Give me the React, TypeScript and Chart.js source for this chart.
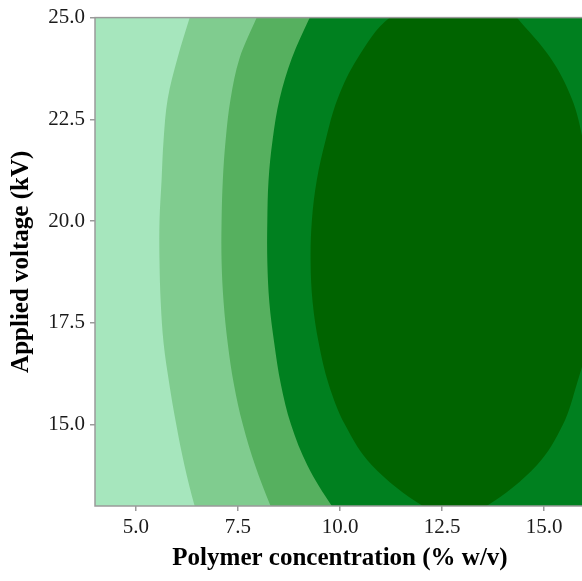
import React, { useEffect, useRef } from 'react';
import { Chart, registerables } from 'chart.js';

Chart.register(...registerables);

// Contour boundaries (x position of each boundary at each voltage).
// The first and last entries lie just outside the plotted range so the curves meet the frame naturally.
const yLevels = [25.5, 25, 24, 23, 22, 21, 20, 19, 18, 17, 16, 15, 14, 13, 12.5];
const level1X = [6.47, 6.32, 6.02, 5.78, 5.68, 5.63, 5.58, 5.58, 5.61, 5.68, 5.82, 5.99, 6.19, 6.44, 6.6];
const level2X = [8.18, 7.96, 7.54, 7.32, 7.2, 7.13, 7.1, 7.1, 7.15, 7.25, 7.4, 7.62, 7.92, 8.3, 8.52];
const level3X = [9.5, 9.26, 8.82, 8.52, 8.35, 8.25, 8.22, 8.22, 8.27, 8.39, 8.55, 8.8, 9.2, 9.8, 10.2];

// Innermost (darkest) region: closed contour
const ellipseY = [25, 24, 23, 22, 21, 20, 19, 18, 17, 16, 15, 14, 13];
const level4Left = [11.22, 10.43, 9.94, 9.65, 9.43, 9.31, 9.28, 9.33, 9.48, 9.72, 10.12, 10.78, 12.03];
const level4Right = [14.33, 15.16, 15.68, 15.95, 16.12, 16.22, 16.24, 16.19, 16.07, 15.8, 15.46, 14.82, 13.59];
const level4Top = { x: 12.78, y: 25.8 };
const level4Bottom = { x: 12.8, y: 12.75 };

const outerEdgeX = 16.5;

const levelColors = ['#a6e6bd', '#80cc8f', '#56b05f', '#00801f', '#006400'];

const xTicks = [5, 7.5, 10, 12.5, 15];
const yTicks = [15, 17.5, 20, 22.5, 25];
const xRange = [4, 16];
const yRange = [13, 25];

const FONT = "'Liberation Serif', 'Times New Roman', serif";

function bandPoints(xs: number[]) {
  const pts = yLevels.map((y, i) => ({ x: xs[i], y }));
  pts.push({ x: outerEdgeX, y: yLevels[yLevels.length - 1] });
  pts.push({ x: outerEdgeX, y: yLevels[0] });
  return pts;
}

function ellipsePoints() {
  const left = ellipseY.map((y, i) => ({ x: level4Left[i], y }));
  const right = ellipseY.map((y, i) => ({ x: level4Right[i], y })).reverse();
  return [level4Top, ...left, level4Bottom, ...right];
}

const bgPlugin = {
  id: 'bgFill',
  beforeDatasetsDraw(chart: any) {
    const { ctx, chartArea } = chart;
    ctx.save();
    ctx.fillStyle = levelColors[0];
    ctx.fillRect(chartArea.left, chartArea.top, chartArea.right - chartArea.left, chartArea.bottom - chartArea.top);
    ctx.restore();
  },
  afterDatasetsDraw(chart: any) {
    const { ctx, chartArea } = chart;
    ctx.save();
    ctx.strokeStyle = '#9a9a9a';
    ctx.lineWidth = 1.5;
    ctx.strokeRect(chartArea.left, chartArea.top, chartArea.right - chartArea.left, chartArea.bottom - chartArea.top);
    ctx.restore();
  },
};

export default function App() {
  const ref = useRef<HTMLCanvasElement | null>(null);

  useEffect(() => {
    document.body.style.margin = '0';
    document.body.style.overflow = 'hidden';
    document.documentElement.style.overflow = 'hidden';
    const canvas = ref.current;
    if (!canvas) return;

    const common = {
      pointRadius: 0,
      pointHoverRadius: 0,
      borderWidth: 0,
      borderColor: 'transparent',
      tension: 0.35,
      fill: 'shape',
    };

    // Chart.js draws the first dataset on top, so the innermost level comes first
    const chart = new Chart(canvas, {
      type: 'line',
      data: {
        datasets: [
          { ...common, data: ellipsePoints(), backgroundColor: levelColors[4] },
          { ...common, data: bandPoints(level3X), backgroundColor: levelColors[3] },
          { ...common, data: bandPoints(level2X), backgroundColor: levelColors[2] },
          { ...common, data: bandPoints(level1X), backgroundColor: levelColors[1] },
        ] as any,
      },
      options: {
        animation: false,
        responsive: false,
        events: [],
        elements: { line: { capBezierPoints: false } },
        layout: { padding: { left: 0, top: 16, right: 15, bottom: 0 } },
        plugins: {
          legend: { display: false },
          tooltip: { enabled: false },
        },
        scales: {
          x: {
            type: 'linear',
            min: xRange[0],
            max: xRange[1],
            afterBuildTicks: (s: any) => {
              s.ticks = xTicks.map((v) => ({ value: v }));
            },
            afterFit: (s: any) => {
              s.height = 75;
            },
            ticks: {
              callback: (v: any) => Number(v).toFixed(1),
              font: { size: 21, family: FONT },
              color: '#1a1a1a',
              padding: 4,
              maxRotation: 0,
              autoSkip: false,
            },
            grid: {
              display: true,
              drawOnChartArea: false,
              drawTicks: true,
              tickLength: 5,
              color: '#9a9a9a',
              lineWidth: 1.5,
            },
            border: { display: false },
            title: {
              display: true,
              text: 'Polymer concentration (% w/v)',
              font: { size: 25, weight: 'bold', family: FONT },
              color: '#000',
              padding: { top: 0, bottom: 7 },
            },
          },
          y: {
            type: 'linear',
            min: yRange[0],
            max: yRange[1],
            afterBuildTicks: (s: any) => {
              s.ticks = yTicks.map((v) => ({ value: v }));
            },
            afterFit: (s: any) => {
              s.width = 95;
            },
            ticks: {
              callback: (v: any) => Number(v).toFixed(1),
              font: { size: 21, family: FONT },
              color: '#1a1a1a',
              padding: 5,
              autoSkip: false,
            },
            grid: {
              display: true,
              drawOnChartArea: false,
              drawTicks: true,
              tickLength: 5,
              color: '#9a9a9a',
              lineWidth: 1.5,
            },
            border: { display: false },
            title: {
              display: true,
              text: 'Applied voltage (kV)',
              font: { size: 25, weight: 'bold', family: FONT },
              color: '#000',
              padding: { top: 7, bottom: 0 },
            },
          },
        },
      } as any,
      plugins: [bgPlugin],
    });

    return () => {
      chart.destroy();
    };
  }, []);

  return (
    <div style={{ width: 600, height: 581, overflow: 'hidden' }}>
      <canvas ref={ref} width={600} height={581} style={{ display: 'block' }} />
    </div>
  );
}
